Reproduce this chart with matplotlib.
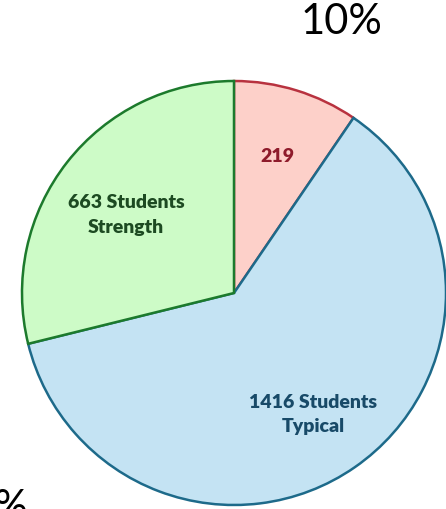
import matplotlib.pyplot as plt

# student counts per group
groups = ["Weak", "Typical", "Strength"]
counts = [219, 1416, 663]
labels = ["219", "1416 Students\nTypical", "663 Students\nStrength"]
fills = ["#fdd0c9", "#c4e3f3", "#cdfbc7"]
edges = ["#b8323f", "#1d6a8a", "#1c7a2c"]
text_colors = ["#8e1b2b", "#184a68", "#1d4a22"]

W, H = 446, 510
fig = plt.figure(figsize=(W / 100, H / 100), dpi=100)
ax = fig.add_axes([0, 0, 1, 1])

cx, cy, r = 234, H - 294, 212
wedges, _ = ax.pie(counts, colors=fills, startangle=90, counterclock=False,
                   center=(cx, cy), radius=r, frame=True,
                   wedgeprops=dict(linewidth=1.8))
for w, ec in zip(wedges, edges):
    w.set_edgecolor(ec)
ax.set_xlim(0, W)
ax.set_ylim(0, H)
ax.set_aspect("equal")
ax.axis("off")

label_pos = [(277, H - 157), (313, H - 415), (126, H - 215)]
for (x, y), txt, c in zip(label_pos, labels, text_colors):
    ax.text(x, y, txt, ha="center", va="center", fontsize=14,
            fontweight="heavy", color=c, family="Lato", linespacing=1.5)

ax.text(341, H - 22, "10%", ha="center", va="center", fontsize=30,
        family="Lato", color="black")
ax.text(28, H - 489, "29%", ha="right", va="top", fontsize=30,
        family="Lato", color="black")

fig.savefig("out.png", dpi=100)
